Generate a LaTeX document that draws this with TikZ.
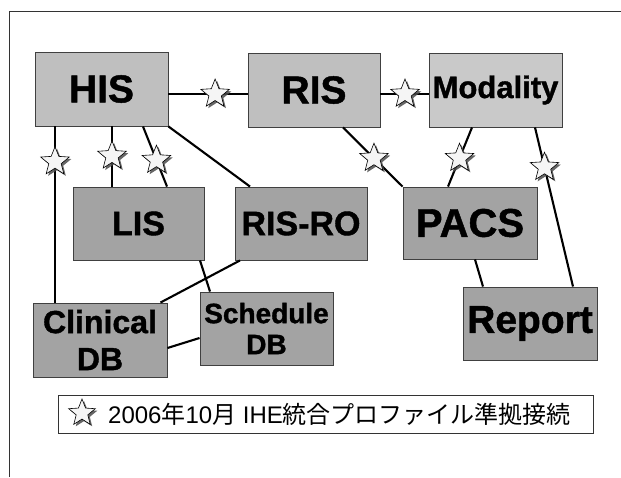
\documentclass[tikz,border=0pt]{standalone}
\usepackage{fontspec}
\setmainfont{Liberation Sans}
\newfontfamily\heavy{Liberation Sans}[BoldFeatures={FakeBold=1.2}]
\newfontfamily\jp{Noto Sans CJK JP}
\usetikzlibrary{shapes.geometric,shadows}
\tikzset{
  sysbox/.style={draw=black!75, line width=0.9pt, fill=#1, inner sep=0pt,
    minimum width=133pt, minimum height=73pt, align=center},
  sysbox/.default=gray!72,
  link/.style={line width=2.1pt, black},
  starmark/.style={star, star points=5, star point ratio=2.3, minimum size=30pt,
    inner sep=0pt, draw=black, line width=0.6pt, fill=gray!8,
    drop shadow={shadow xshift=2pt, shadow yshift=-2pt, fill=black!70, opacity=0.85}},
  frameline/.style={line width=0.9pt, black!80},
}
\newcommand{\bx}[1]{\heavy\bfseries\fontsize{#1}{#1}\selectfont}
\begin{document}
\begin{tikzpicture}[x=1pt, y=-1pt]
\useasboundingbox (0,0) rectangle (621,477);
\fill[white] (0,0) rectangle (621,477);
% outer frame (top and left only visible)
\coordinate (fa) at (9,477);
\coordinate (fb) at (9,11);
\coordinate (fc) at (621,11);
\draw[frameline] (fa) -- (fb) -- (fc);

% boxes
\node[sysbox=gray!50, minimum height=74pt, font=\bx{39}] (HIS) at (101.5,89) {HIS};
\node[sysbox=gray!50, minimum height=74pt, minimum width=132pt, font=\bx{39}] (RIS) at (314,90) {RIS};
\node[sysbox=gray!42, minimum height=74pt, font=\bx{31}] (MOD) at (495.5,90) {Modality};
\node[sysbox, minimum width=131pt, font=\bx{34}] (LIS) at (138.5,223.5) {LIS};
\node[sysbox, minimum width=132pt, font=\bx{34}] (RISRO) at (301,223.5) {RIS-RO};
\node[sysbox, minimum width=134pt, minimum height=72pt, font=\bx{40}] (PACS) at (470,223) {PACS};
\node[sysbox, minimum width=134pt, minimum height=74pt, font={\heavy\bfseries\fontsize{32}{37}\selectfont}] (CDB) at (100,340) {Clinical\\DB};
\node[sysbox, font={\heavy\bfseries\fontsize{28}{31}\selectfont}] (SDB) at (266.5,328.5) {Schedule\\DB};
\node[sysbox, minimum width=134pt, font=\bx{39}] (REP) at (530,323.5) {Report};

% connectors with IHE stars
\draw[link] ([yshift=-5pt]HIS.east) -- node[starmark, pos=0.59] (s1) {} ([yshift=-4pt]RIS.west);
\draw[link] ([yshift=-4pt]RIS.east) -- node[starmark, pos=0.51] (s2) {} ([yshift=-4pt]MOD.west);
\draw[link] ([xshift=-46.5pt]HIS.south) -- node[starmark, pos=0.2] (s3) {} ([xshift=-45pt]CDB.north);
\draw[link] ([xshift=10.5pt]HIS.south) -- node[starmark, pos=0.49] (s4) {} ([xshift=-26.5pt]LIS.north);
\draw[link] ([xshift=41.5pt]HIS.south) -- node[starmark, pos=0.56] (s5) {} ([xshift=28.5pt]LIS.north);
\draw[link] ([xshift=29pt]RIS.south) -- node[starmark, pos=0.52] (s6) {} (PACS.north west);
\draw[link] ([xshift=-23.5pt]MOD.south) -- node[starmark, pos=0.52] (s7) {} ([xshift=-22pt]PACS.north);
\draw[link] ([xshift=39.5pt]MOD.south) -- node[starmark, pos=0.25] (s8) {} ([xshift=43pt]REP.north);

% plain connectors
\draw[link] (HIS.south east) -- ([xshift=-51pt]RISRO.north);
\draw[link] ([xshift=61.5pt]LIS.south) -- ([xshift=-56.5pt]SDB.north);
\draw[link] ([xshift=-61pt]RISRO.south) -- ([xshift=-7pt]CDB.north east);
\draw[link] ([yshift=-8pt]CDB.east) -- ([yshift=-9.5pt]SDB.west);
\draw[link] ([xshift=5pt]PACS.south) -- ([xshift=-47pt]REP.north);

% legend
\node[draw=black!80, line width=0.9pt, fill=white, minimum width=535pt, minimum height=38pt, inner sep=0pt] (legend) at (325.5,414) {};
\node[starmark, minimum size=28pt] (lstar) at (82,413) {};
\node[anchor=west, inner sep=0pt, font=\jp\fontsize{24}{25}\selectfont] (legtext) at (108,414) {{\rmfamily 2006}年{\rmfamily 10}月{\rmfamily\ IHE}統合プロファイル準拠接続};
\end{tikzpicture}
\end{document}
